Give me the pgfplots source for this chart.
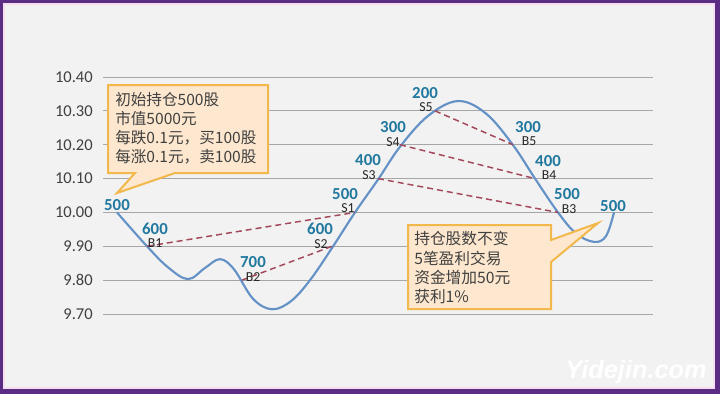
\documentclass[border=0pt]{standalone}
\usepackage{pgfplots}
\pgfplotsset{compat=1.18}
\usepackage{fontspec}
\setmainfont{Carlito}
\newfontfamily\cjk{Noto Sans CJK SC}
\newfontfamily\wmfont{Liberation Sans}
\definecolor{framec}{HTML}{5B2C83}
\definecolor{framepink}{HTML}{F6DDF2}
\definecolor{bgc}{HTML}{F2F2F2}
\definecolor{curvec}{HTML}{6592C6}
\definecolor{numblue}{HTML}{21789F}
\definecolor{dashred}{HTML}{A3485A}
\definecolor{gridc}{HTML}{A6A6A6}
\definecolor{calfill}{HTML}{FDE8CF}
\definecolor{calborder}{HTML}{F2B84B}
\definecolor{txt}{HTML}{404040}
\definecolor{smalltxt}{HTML}{262626}

\pgfplotstableread{
x y
117 10.00
147 9.90
168 9.838
188 9.803
205 9.836
220 9.862
234 9.832
253 9.745
272 9.714
291 9.738
310 9.80
332 9.895
355 10.00
378 10.097
400 10.194
428 10.285
458 10.329
486 10.292
513 10.199
535 10.100
558 10.00
576 9.938
594 9.913
606 9.930
614 10.00
}\curvedata

\pgfplotstableread{
x y lab
117 10.0219 500
155 9.9521 600
253 9.8546 700
320 9.9521 600
345 10.0554 500
368 10.1559 400
393 10.2533 300
425 10.3537 200
528 10.2533 300
548 10.1529 400
567 10.0554 500
613 10.0190 500
}\numdata

\pgfplotstableread{
x y lab
155 9.9087 B1
253 9.8082 B2
321 9.9057 S2
348 10.0120 S1
369 10.1095 S3
393 10.2070 S4
426 10.3103 S5
529 10.2099 B5
549 10.1095 B4
569 10.0091 B3
}\tagdata

\begin{document}
\begin{tikzpicture}
\useasboundingbox (0,0) rectangle (540pt,295.5pt);
\begin{scope}[x=0.75pt,y=-0.75pt,yshift=295.5pt]
\fill[framec] (0,0) rectangle (720,394);
\fill[framepink] (3,3) rectangle (715,389);
\fill[bgc] (5,5) rectangle (713,387);
\node[text=white, font=\wmfont\bfseries\itshape\fontsize{19}{19}\selectfont] at (636,372) {Yidejin.com};
\end{scope}
\begin{axis}[
  at={(77.25pt,60pt)}, anchor=south west,
  scale only axis, width=412.5pt, height=177.75pt,
  xmin=103, xmax=653, ymin=9.70, ymax=10.40,
  xtick=\empty,
  ytick={9.7,9.8,9.9,10,10.1,10.2,10.3,10.4},
  /pgf/number format/assume math mode=true,
  y tick label style={/pgf/number format/fixed, /pgf/number format/fixed zerofill, /pgf/number format/precision=2},
  tick label style={font=\fontsize{12.4}{14}\selectfont, text=txt},
  yticklabel style={anchor=east, inner sep=0pt, xshift=-7.5pt},
  ymajorgrids, grid style={gridc, line width=0.75pt},
  axis line style={draw=none},
  major tick length=0pt,
  clip=false,
]
\addplot[curvec, line width=1.6pt, smooth, tension=0.6, no marks] table[x=x,y=y] {\curvedata};

\addplot[dashred, line width=1.1pt, dash pattern=on 4.5pt off 3pt, no marks] coordinates {(147,9.90) (355,10.00)};
\addplot[dashred, line width=1.1pt, dash pattern=on 4.5pt off 3pt, no marks] coordinates {(242,9.80) (332,9.90)};
\addplot[dashred, line width=1.1pt, dash pattern=on 4.5pt off 3pt, no marks] coordinates {(378,10.10) (558,10.00)};
\addplot[dashred, line width=1.1pt, dash pattern=on 4.5pt off 3pt, no marks] coordinates {(400,10.20) (535,10.10)};
\addplot[dashred, line width=1.1pt, dash pattern=on 4.5pt off 3pt, no marks] coordinates {(435,10.30) (513,10.20)};

\addplot[draw=none, no marks, nodes near coords, point meta=explicit symbolic,
  every node near coord/.append style={anchor=center, text=numblue, inner sep=0pt, font=\bfseries\fontsize{12.6}{13}\selectfont}]
  table[x=x,y=y,meta=lab] {\numdata};
\addplot[draw=none, no marks, nodes near coords, point meta=explicit symbolic,
  every node near coord/.append style={anchor=center, text=smalltxt, inner sep=0pt, font=\fontsize{10.3}{11}\selectfont}]
  table[x=x,y=y,meta=lab] {\tagdata};

% callout 1
\draw[calborder, line width=1.5pt, fill=calfill, line join=miter]
  (axis cs:108,10.376) -- (axis cs:268,10.376) -- (axis cs:268,10.1164) -- (axis cs:175,10.1164)
  -- (axis cs:117,10.0573) -- (axis cs:135,10.1164) -- (axis cs:108,10.1164) -- cycle;
\begin{scope}[every node/.style={anchor=west, inner sep=0pt, text=txt, font=\cjk\fontsize{11.7}{13}\selectfont}]
\node at (axis cs:115,10.332) {初始持仓500股};
\node at (axis cs:115,10.276) {市值5000元};
\node at (axis cs:115,10.220) {每跌0.1元，买100股};
\node at (axis cs:115,10.164) {每涨0.1元，卖100股};
\end{scope}

% callout 2
\draw[calborder, line width=1.5pt, fill=calfill, line join=miter]
  (axis cs:408,9.9628) -- (axis cs:551,9.9628) -- (axis cs:551,9.9185) -- (axis cs:598,9.9687)
  -- (axis cs:551,9.8535) -- (axis cs:551,9.7147) -- (axis cs:408,9.7147) -- cycle;
\begin{scope}[every node/.style={anchor=west, inner sep=0pt, text=txt, font=\cjk\fontsize{11.8}{13}\selectfont}]
\node at (axis cs:414,9.9224) {持仓股数不变};
\node at (axis cs:414,9.8634) {5笔盈利交易};
\node at (axis cs:414,9.8090) {资金增加50元};
\node at (axis cs:414,9.7523) {获利1\%};
\end{scope}
\end{axis}
\end{tikzpicture}
\end{document}
